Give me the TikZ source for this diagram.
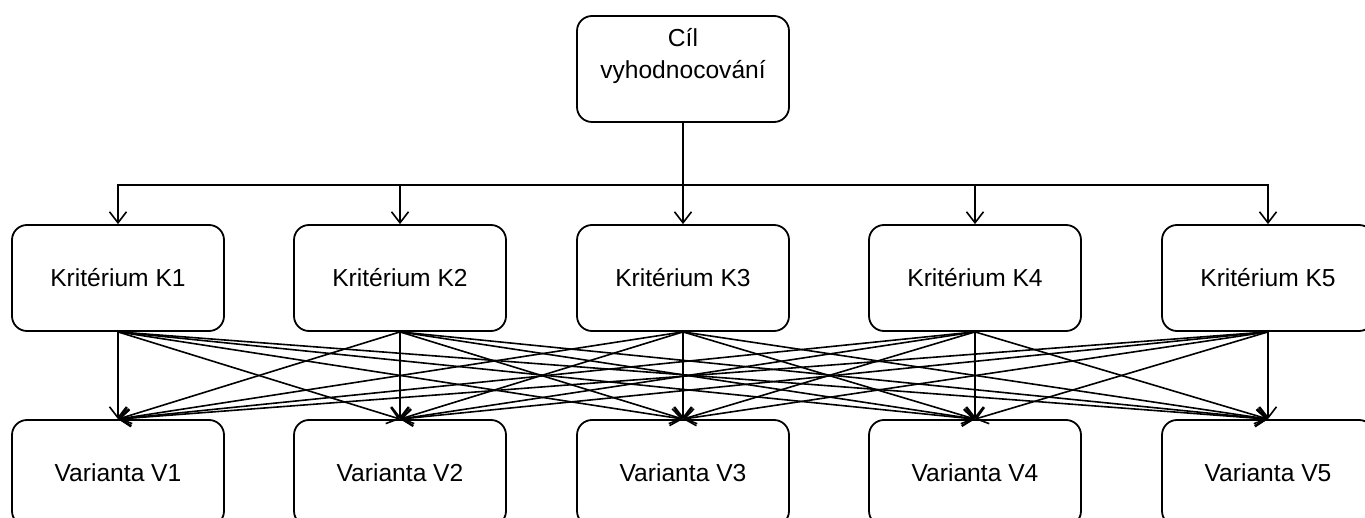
\documentclass[tikz,border=0pt]{standalone}
\usepackage{fontspec}
\setmainfont{Liberation Sans}
\usetikzlibrary{arrows.meta}
\begin{document}
\begin{tikzpicture}[x=1pt,y=-1pt,
  lbl/.style={font=\fontsize{24.6}{32}\selectfont},
  box/.style={draw, line width=1.8pt, rounded corners=15pt, minimum width=212pt,
    minimum height=106pt, inner sep=0pt, text height=17.5pt, text depth=0pt, lbl},
  arr/.style={line width=1.6pt, -{Straight Barb[length=11pt,width=17pt,line width=1.6pt]}}]
\useasboundingbox (0,0) rectangle (1365,518);
\clip (0,0) rectangle (1365,518);
% goal
\node[box] (goal) at (683,69) {};
\node[lbl, anchor=base, inner sep=0pt] (goaltxtA) at (683,47) {Cíl};
\node[lbl, anchor=base, inner sep=0pt] (goaltxtB) at (683,79) {vyhodnocování};
\coordinate (bus) at (683,185);
% criteria
\node[box] (k1) at (118,278) {Kritérium K1};
\node[box] (k2) at (400,278) {Kritérium K2};
\node[box] (k3) at (683,278) {Kritérium K3};
\node[box] (k4) at (975,278) {Kritérium K4};
\node[box] (k5) at (1268,278) {Kritérium K5};
% variants
\node[box] (v1) at (118,473) {Varianta V1};
\node[box] (v2) at (400,473) {Varianta V2};
\node[box] (v3) at (683,473) {Varianta V3};
\node[box] (v4) at (975,473) {Varianta V4};
\node[box] (v5) at (1268,473) {Varianta V5};
% goal to criteria
\foreach \i in {1,...,5}{
  \draw[arr] (goal.south) -- (bus) -| (k\i.north);
}
% criteria to variants
\foreach \i in {1,...,5}{
  \foreach \j in {1,...,5}{
    \draw[arr] (k\i.south) -- (v\j.north);
  }
}
\end{tikzpicture}
\end{document}
